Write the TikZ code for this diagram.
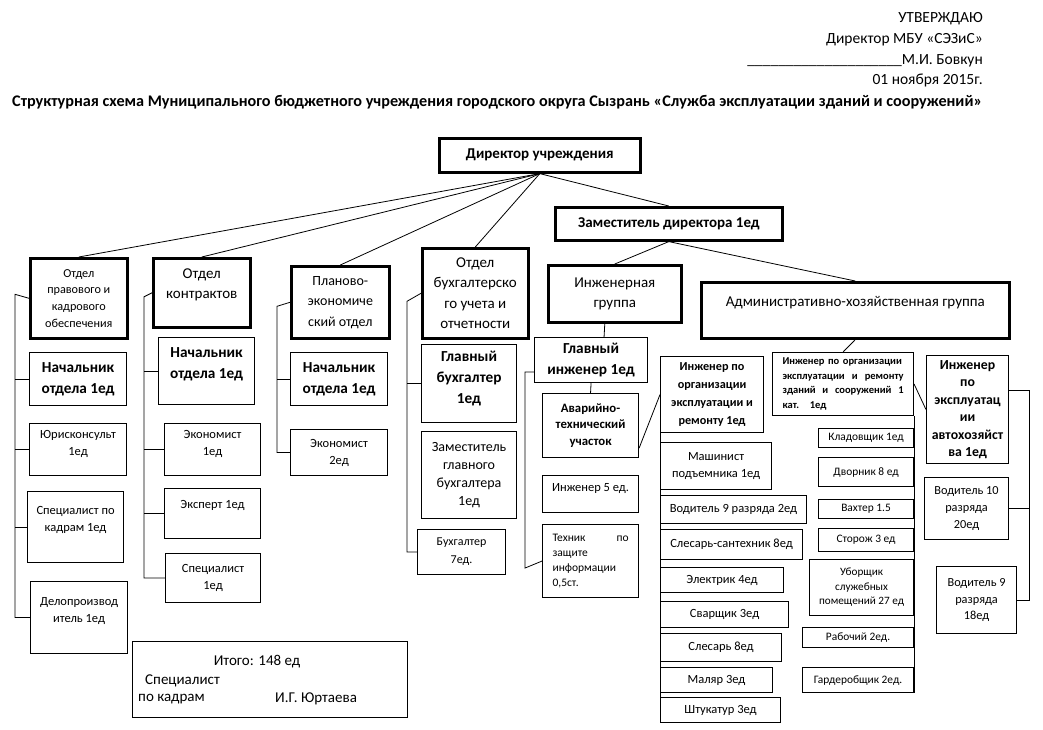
\documentclass[tikz,border=0pt]{standalone}
\usepackage{fontspec}
\setmainfont{Carlito}
\usetikzlibrary{calc}
\tikzset{
  thk/.style={draw,line width=2.6pt,align=center,inner sep=1pt,anchor=north west},
  bx/.style={draw,line width=1.1pt,align=center,inner sep=1pt,anchor=north west},
  wh/.style 2 args={minimum width=#1,minimum height=#2},
  lnk/.style={line width=0.8pt},
  lift/.style={text depth=#1},
  txt/.style={inner sep=0pt},
  fhead/.style={font=\fontsize{15.5}{17}\selectfont},
  ftitle/.style={font=\fontsize{16.2}{18}\selectfont\bfseries},
  fdir/.style={font=\fontsize{15}{17}\selectfont\bfseries},
  fdep/.style={font=\fontsize{15}{20.5}\selectfont},
  fsm/.style={font=\fontsize{12.2}{16.7}\selectfont},
  fnach/.style={font=\fontsize{15.3}{21}\selectfont\bfseries},
  fbold/.style={font=\fontsize{12.8}{16.5}\selectfont\bfseries},
  fboldbig/.style={font=\fontsize{13.8}{17.5}\selectfont\bfseries},
  fboldsm/.style={font=\fontsize{12.2}{18}\selectfont\bfseries},
  fboldxs/.style={font=\fontsize{10.5}{14.5}\selectfont\bfseries},
  fitem/.style={font=\fontsize{12.5}{17}\selectfont},
  fmid/.style={font=\fontsize{14}{18}\selectfont},
  fsmall/.style={font=\fontsize{11.4}{15}\selectfont},
  ftiny/.style={font=\fontsize{11.5}{15}\selectfont},
  fitog/.style={font=\fontsize{15}{17}\selectfont}
}
\begin{document}
\begin{tikzpicture}[x=1pt,y=-1pt]
\path[fill=white,use as bounding box] (0,0) rectangle (1043,729);
\node[txt,fhead,anchor=east] (utv) at (983,19) {УТВЕРЖДАЮ};
\node[txt,fhead,anchor=east] (dirmbu) at (983,40) {Директор МБУ «СЭЗиС»};
\node[txt,fhead,anchor=east] (podp) at (983,61) {\_\_\_\_\_\_\_\_\_\_\_\_\_\_\_\_\_\_\_\_М.И. Бовкун};
\node[txt,fhead,anchor=east] (data) at (983,80) {01 ноября 2015г.};
\node[txt,ftitle,anchor=west] (title) at (12,102) {Структурная схема Муниципального бюджетного учреждения городского округа Сызрань «Служба эксплуатации зданий и сооружений»};

\node[thk,fdir,wh={201}{34}] (dir) at (438,137) {Директор учреждения};
\node[thk,fdir,wh={227}{33}] (zam) at (554,206) {Заместитель директора 1ед};
\node[thk,fsm,wh={97}{80}] (pravo) at (29,257) {Отдел\\правового и\\кадрового\\обеспечения};
\node[thk,fdep,wh={97}{69},lift=18] (kontr) at (152,257) {Отдел\\контрактов};
\node[thk,fdep,wh={98}{72},font=\fontsize{14}{20.5}\selectfont] (plan) at (290,265) {Планово-\\экономиче\\ский отдел};
\node[thk,fdep,wh={106}{90}] (buh) at (421,247) {Отдел\\бухгалтерско\\го учета и\\отчетности};
\node[thk,fdep,wh={133}{57}] (ing) at (547,264) {Инженерная\\группа};
\node[thk,fdep,wh={308}{56},lift=18] (ahg) at (700,281) {Административно-хозяйственная группа};

\node[bx,fnach,wh={97}{53}] (nach1) at (29,352) {Начальник\\отдела 1ед};
\node[bx,fitem,wh={97}{52},lift=14] (yur) at (29,423) {Юрисконсульт\\1ед};
\node[bx,fitem,wh={96}{71},lift=17] (spk) at (27,491) {Специалист по\\кадрам 1ед};
\node[bx,fitem,wh={97}{72},lift=16] (delo) at (30,581) {Делопроизвод\\итель 1ед};

\node[bx,fnach,wh={96}{67},lift=17] (nach2) at (158,337) {Начальник\\отдела 1ед};
\node[bx,fitem,wh={96}{52},lift=14] (ekon1) at (164,423) {Экономист\\1ед};
\node[bx,fitem,wh={96}{50},lift=19] (eksp) at (164,488) {Эксперт 1ед};
\node[bx,fitem,wh={95}{49}] (spec) at (165,553) {Специалист\\1ед};

\node[bx,fnach,wh={97}{53}] (nach3) at (290,352) {Начальник\\отдела 1ед};
\node[bx,fitem,wh={97}{46}] (ekon2) at (290,429) {Экономист\\2ед};

\node[bx,fnach,wh={95}{78},lift=12] (glbuh) at (421,344) {Главный\\бухгалтер\\1ед};
\node[bx,fmid,wh={95}{87}] (zambuh) at (421,431) {Заместитель\\главного\\бухгалтера\\1ед};
\node[bx,fitem,wh={88}{45},font=\fontsize{12}{18}\selectfont] (buhg) at (417,529) {Бухгалтер\\7ед.};

\node[bx,fnach,wh={113}{45}] (gi) at (534,337) {Главный\\инженер 1ед};
\node[bx,fbold,wh={96}{64}] (avar) at (542,393) {Аварийно-\\технический\\участок};
\node[bx,fitem,wh={96}{37},lift=14] (ing5) at (542,475) {Инженер 5 ед.};
\node[bx,ftiny,wh={96}{73},text width=76,align=left] (tech) at (542,524) {Техник\hfill по\\защите\\информации\\0,5ст.};

\node[bx,fboldsm,wh={103}{76}] (ioer) at (660,356) {Инженер по\\организации\\эксплуатации и\\ремонту 1ед};
\node[bx,fitem,wh={111}{47}] (mash) at (660,442) {Машинист\\подъемника 1ед};
\node[bx,fitem,wh={146}{28}] (vod9a) at (660,495) {Водитель 9 разряда 2ед};
\node[bx,fitem,wh={142}{30}] (sant) at (660,529) {Слесарь-сантехник 8ед};
\node[bx,fitem,wh={123}{25}] (elek) at (660,567) {Электрик 4ед};
\node[bx,fitem,wh={128}{26}] (svar) at (660,601) {Сварщик 3ед};
\node[bx,fitem,wh={121}{28}] (sles) at (660,633) {Слесарь 8ед};
\node[bx,fitem,wh={112}{25}] (malyar) at (660,667) {Маляр 3ед};
\node[bx,fitem,wh={120}{25}] (shtuk) at (660,697) {Штукатур 3ед};

\node[bx,fboldxs,wh={141}{63},text width=121,align=left] (ioerz) at (772,352) {Инженер по организации\\эксплуатации\hfill и\hfill ремонту\\зданий\hfill и\hfill сооружений\hfill 1\\кат.\quad 1ед};
\node[bx,fsmall,wh={95}{19}] (klad) at (818,428) {Кладовщик 1ед};
\node[bx,fsmall,wh={95}{29}] (dvor) at (818,457) {Дворник 8 ед};
\node[bx,fsmall,wh={95}{19}] (vakht) at (818,499) {Вахтер 1.5};
\node[bx,fsmall,wh={95}{23}] (storozh) at (818,528) {Сторож 3 ед};
\node[bx,fsmall,wh={104}{56},font=\fontsize{11.2}{14.5}\selectfont] (ubor) at (809,559) {Уборщик\\служебных\\помещений 27 ед};
\node[bx,fsmall,wh={111}{20}] (rab) at (802,627) {Рабочий 2ед.};
\node[bx,fsmall,wh={111}{25}] (garder) at (802,667) {Гардеробщик 2ед.};

\node[bx,fboldbig,wh={82}{108}] (iea) at (926,355) {Инженер\\по\\эксплуатац\\ии\\автохозяйст\\ва 1ед};
\node[bx,fitem,wh={84}{62},font=\fontsize{12.3}{16.7}\selectfont] (vod10) at (924,477) {Водитель 10\\разряда\\20ед};
\node[bx,fitem,wh={80}{67},font=\fontsize{12.3}{16.5}\selectfont] (vod9b) at (936,566) {Водитель 9\\разряда\\18ед};

\node[bx,wh={275}{76}] (itogo) at (132,641) {};
\node[txt,fitog] (itog) at (257,662) {Итого: 148 ед};
\node[txt,fitog,anchor=west] (spkad) at (145,681) {Специалист};
\node[txt,fitog,anchor=west] (pokad) at (138,699) {по кадрам};
\node[txt,fitog,anchor=west] (yurt) at (275,699) {И.Г. Юртаева};

\draw[lnk] (dir.south) -- (pravo.north);
\draw[lnk] (dir.south) -- (kontr.north);
\draw[lnk] (dir.south) -- (plan.north);
\draw[lnk] (dir.south) -- (buh.north);
\draw[lnk] (dir.south) -- (zam.north);
\draw[lnk] (zam.south) -- (ing.north);
\draw[lnk] (zam.south) -- (ahg.north);

\draw[lnk] (pravo.west) -- ++(-14,-4) |- (delo.west);
\draw[lnk] (nach1.west) -- ++(-14,0);
\draw[lnk] (yur.west) -- ++(-14,0);
\draw[lnk] (spk.west) -- ++(-12,0);
\draw[lnk] (kontr.west) -- ++(-8,4) |- (spec.west);
\draw[lnk] (nach2.west) -- ++(-14,0);
\draw[lnk] (ekon1.west) -- ++(-20,0);
\draw[lnk] (eksp.west) -- ++(-20,0);
\draw[lnk] (plan.west) -- ++(-13,4) |- (ekon2.west);
\draw[lnk] (nach3.west) -- ++(-13,0);
\draw[lnk] (buh.west) -- ++(-14,8) |- (buhg.west);
\draw[lnk] (glbuh.west) -- ++(-14,0);

\draw[lnk] ($(ing.south)+(-10,0)$) -- ($(gi.north)+(13,0)$);
\draw[lnk] (gi.south) -- (avar.north);
\draw[lnk] ($(gi.west)+(0,12)$) -- ++(-9,0) -- ++(0,196) -- (tech.west);
\draw[lnk] ($(avar.south east)+(0,-10)$) -- (ioer.west);
\draw[lnk] (ioer.south west) -- (shtuk.south west);
\draw[lnk] (ahg.south) -- (ioerz.north);
\draw[lnk] (ioerz.south east) -- (garder.south east);
\draw[lnk] (ioerz.east) -- (iea.west);
\draw[lnk] ($(iea.east)+(0,-19)$) -- ++(20,0) |- (vod9b.east);
\draw[lnk] (vod10.east) -- ++(20,0);
\end{tikzpicture}
\end{document}
